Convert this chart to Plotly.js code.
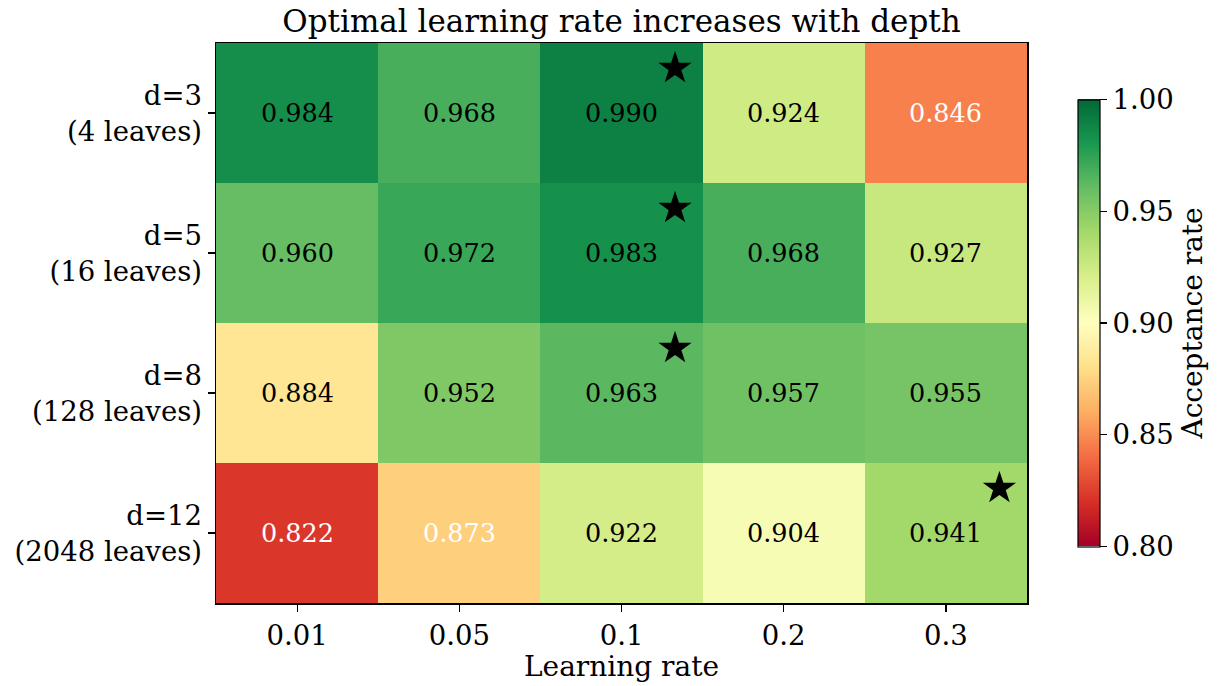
<!DOCTYPE html>
<html>
<head>
<meta charset="utf-8">
<script src="https://cdn.plot.ly/plotly-3.0.1.min.js"></script>
<style>html,body{margin:0;padding:0;background:#fff;}#chart{width:1225px;height:686px;}</style>
</head>
<body>
<div id="chart"></div>
<script>
// Data
const learningRates = ["0.01", "0.05", "0.1", "0.2", "0.3"];
const depthLabels = ["d=3<br>(4 leaves)", "d=5<br>(16 leaves)", "d=8<br>(128 leaves)", "d=12<br>(2048 leaves)"];
const rowD3 = [0.984, 0.968, 0.990, 0.924, 0.846];
const rowD5 = [0.960, 0.972, 0.983, 0.968, 0.927];
const rowD8 = [0.884, 0.952, 0.963, 0.957, 0.955];
const rowD12 = [0.822, 0.873, 0.922, 0.904, 0.941];
const bestColumn = [2, 2, 2, 4]; // index of best learning rate per depth

const z = [rowD3, rowD5, rowD8, rowD12];
const xIdx = learningRates.map((_, i) => i);
const yIdx = depthLabels.map((_, i) => i);

const RdYlGn = [
  [0.0, '#a50026'], [0.1, '#d73027'], [0.2, '#f46d43'], [0.3, '#fdae61'],
  [0.4, '#fee08b'], [0.5, '#ffffbf'], [0.6, '#d9ef8b'], [0.7, '#a6d96a'],
  [0.8, '#66bd63'], [0.9, '#1a9850'], [1.0, '#006837']
];

const FONT = 'DejaVu Serif, serif';
const TICK = 27.5;

const heat = {
  type: 'heatmap',
  x: xIdx, y: yIdx, z: z,
  zmin: 0.8, zmax: 1.0,
  colorscale: RdYlGn,
  hoverinfo: 'skip',
  colorbar: {
    x: 1.063, xanchor: 'left', xref: 'paper',
    y: 0.5, yanchor: 'middle',
    len: 0.798, lenmode: 'fraction',
    thickness: 22, thicknessmode: 'pixels',
    outlinecolor: '#000', outlinewidth: 1.2,
    tickvals: [0.80, 0.85, 0.90, 0.95, 1.00],
    ticktext: ['0.80', '0.85', '0.90', '0.95', '1.00'],
    ticks: 'outside', ticklen: 7, tickwidth: 1.2, tickcolor: '#000',
    tickfont: {family: FONT, size: TICK, color: '#000'},
    title: {text: 'Acceptance rate', side: 'right', font: {family: FONT, size: 28, color: '#000'}},
    xpad: 0, ypad: 0
  }
};

const stars = {
  type: 'scatter', mode: 'markers',
  x: bestColumn.map(c => c + 0.33),
  y: yIdx.map(r => r - 0.32),
  marker: {symbol: 'star', size: 25, color: '#000', line: {width: 0}},
  hoverinfo: 'skip', showlegend: false
};

const annotations = [];
z.forEach((row, r) => {
  row.forEach((v, c) => {
    annotations.push({
      x: c, y: r, xref: 'x', yref: 'y',
      text: v.toFixed(3), showarrow: false,
      font: {family: FONT, size: 25.5, color: v < 0.88 ? '#ffffff' : '#000000'}
    });
  });
});

const layout = {
  width: 1225, height: 686,
  margin: {l: 216, r: 198, t: 43, b: 83},
  paper_bgcolor: '#fff', plot_bgcolor: '#fff',
  showlegend: false,
  title: {text: 'Optimal learning rate increases with depth', x: 0.5, xref: 'paper', y: 0.969, yref: 'container', yanchor: 'middle',
          font: {family: FONT, size: 31, color: '#000'}},
  xaxis: {
    range: [-0.5, 4.5], tickvals: xIdx, ticktext: learningRates,
    ticks: 'outside', ticklen: 7, tickwidth: 1.2, tickcolor: '#000',
    showline: true, mirror: true, linecolor: '#000', linewidth: 1.5,
    showgrid: false, zeroline: false, automargin: false,
    tickfont: {family: FONT, size: TICK, color: '#000'},
    title: {text: 'Learning rate', standoff: 4, font: {family: FONT, size: 28, color: '#000'}}
  },
  yaxis: {
    range: [3.5, -0.5], tickvals: yIdx, ticktext: depthLabels,
    ticks: 'outside', ticklen: 7, tickwidth: 1.2, tickcolor: '#000',
    showline: true, mirror: true, linecolor: '#000', linewidth: 1.5,
    showgrid: false, zeroline: false, automargin: false,
    tickfont: {family: FONT, size: TICK, color: '#000'}
  },
  annotations: annotations
};

Plotly.newPlot('chart', [heat, stars], layout, {displayModeBar: false, staticPlot: true});
</script>
</body>
</html>
